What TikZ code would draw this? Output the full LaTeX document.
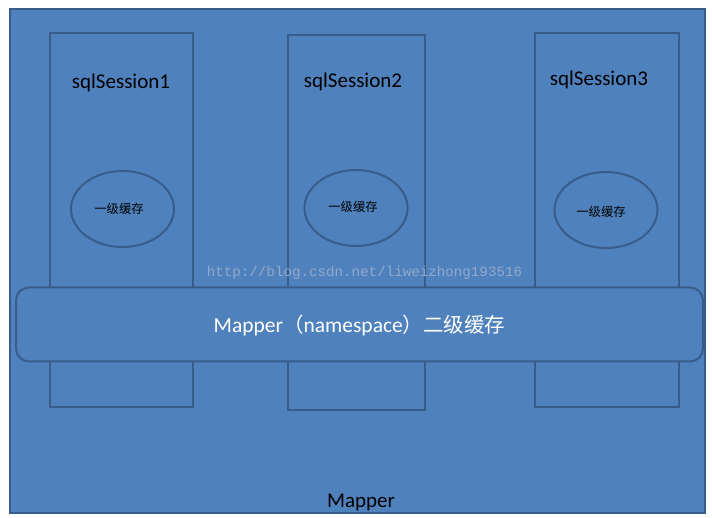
\documentclass[tikz,border=0pt]{standalone}
\usepackage{fontspec}
\usetikzlibrary{shapes.geometric}
\newfontfamily\carl{Carlito}
\newfontfamily\cjk{Noto Sans CJK SC}
\newfontfamily\wm{Liberation Mono}
\definecolor{fillblue}{HTML}{4F81BD}
\definecolor{edgeblue}{HTML}{385D8A}
\definecolor{wmgray}{HTML}{93AACB}
\begin{document}
\begin{tikzpicture}[x=1pt,y=-1pt,
  shapebox/.style={draw=edgeblue, fill=fillblue, line width=2pt, inner sep=0pt, outer sep=0pt},
  sessbox/.style={shapebox, rectangle},
  cacheell/.style={shapebox, ellipse, minimum width=103pt, minimum height=76pt},
  sesslabel/.style={font=\carl\fontsize{21}{24}\selectfont, text=black, inner sep=0pt},
  cachelabel/.style={font=\cjk\fontsize{12.3}{14}\selectfont, text=black, inner sep=0pt}]
\useasboundingbox (0,0) rectangle (712,518);
% outer
\node[sessbox, minimum width=695pt, minimum height=504pt] (outer) at (357,261) {};
% sessions
\node[sessbox, minimum width=143pt, minimum height=374pt] (s1) at (121.5,220) {};
\node[sessbox, minimum width=137pt, minimum height=375pt] (s2) at (356.5,222.5) {};
\node[sessbox, minimum width=144pt, minimum height=374pt] (s3) at (606.5,220) {};
% caches
\node[cacheell] (c1) at (122.5,209) {};
\node[cacheell] (c2) at (356,208) {};
\node[cacheell] (c3) at (606,210) {};
\node[cachelabel] at (119,209) {一级缓存};
\node[cachelabel] at (353,207) {一级缓存};
\node[cachelabel] at (601,212) {一级缓存};
% labels
\node[sesslabel] (l1) at (121,83) {sqlSession1};
\node[sesslabel] (l2) at (353,82) {sqlSession2};
\node[sesslabel] (l3) at (599,80) {sqlSession3};
% watermark
\node[font=\wm\fontsize{14.2}{16}\selectfont, text=wmgray, inner sep=0pt] (wmk) at (364.5,273) {http://blog.csdn.net/liweizhong193516};
% mapper bar
\node[shapebox, rectangle, rounded corners=13pt, minimum width=687pt, minimum height=74pt] (bar) at (359.5,324.5) {};
\node[text=white, inner sep=0pt] (barlabel) at (359.5,325) {{\carl\fontsize{21.5}{24}\selectfont Mapper}{\cjk\fontsize{20.5}{24}\selectfont （}{\carl\fontsize{21.5}{24}\selectfont namespace}{\cjk\fontsize{20.5}{24}\selectfont ）二级缓存}};
\node[font=\carl\fontsize{21}{24}\selectfont, text=black, inner sep=0pt] (mapperlabel) at (361,502) {Mapper};
\end{tikzpicture}
\end{document}
